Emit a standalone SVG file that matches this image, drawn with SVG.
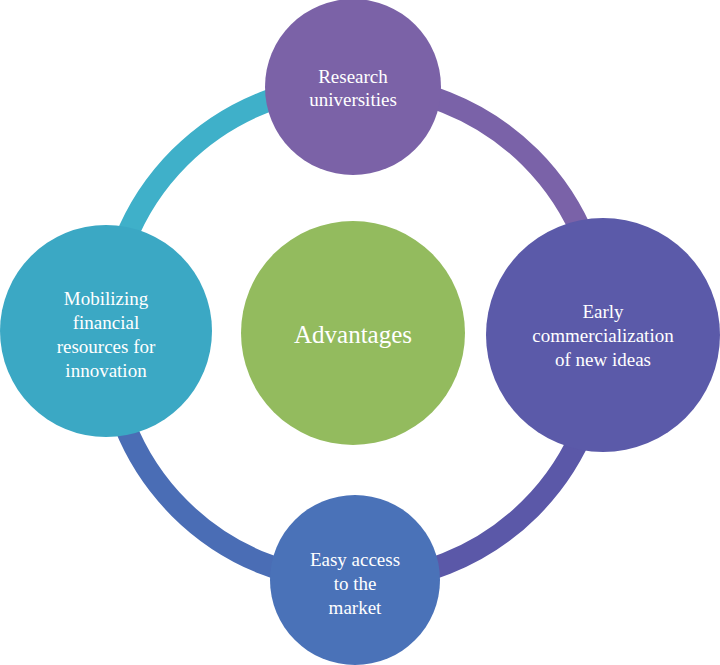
<svg xmlns="http://www.w3.org/2000/svg" width="720" height="665" viewBox="0 0 720 665">
<style>
.arc{fill:none;stroke-width:22}
.t{font-family:"Liberation Serif",serif;fill:#fff;text-anchor:middle;font-size:19px}
.big{font-size:25px}
</style>
<rect width="720" height="665" fill="#fff"/>
<g id="connectors">
<path class="arc" stroke="#7a62a8" d="M355 85 A248 248 0 0 1 603 333"/>
<path class="arc" stroke="#5b58a8" d="M603 333 A248 248 0 0 1 355 581"/>
<path class="arc" stroke="#4a6db5" d="M355 581 A248 248 0 0 1 107 333"/>
<path class="arc" stroke="#3fb0c9" d="M107 333 A248 248 0 0 1 355 85"/>
</g>
<g id="top"><circle cx="353" cy="87" r="88" fill="#7b62a7"/>
<text class="t" x="353" y="83">Research</text><text class="t" x="353" y="106">universities</text></g>
<g id="right"><circle cx="603" cy="335" r="117" fill="#5b5aa9"/>
<text class="t" x="603" y="318">Early</text><text class="t" x="603" y="342">commercialization</text><text class="t" x="603" y="366">of new ideas</text></g>
<g id="bottom"><circle cx="355" cy="580" r="85" fill="#4a72b8"/>
<text class="t" x="355" y="566">Easy access</text><text class="t" x="355" y="590">to the</text><text class="t" x="355" y="614">market</text></g>
<g id="left"><circle cx="106" cy="331" r="106" fill="#3ba8c4"/>
<text class="t" x="106" y="305">Mobilizing</text><text class="t" x="106" y="329">financial</text><text class="t" x="106" y="353">resources for</text><text class="t" x="106" y="377">innovation</text></g>
<g id="center"><circle cx="353" cy="333" r="112" fill="#93bb5e"/>
<text class="t big" x="353" y="343">Advantages</text></g>
</svg>
